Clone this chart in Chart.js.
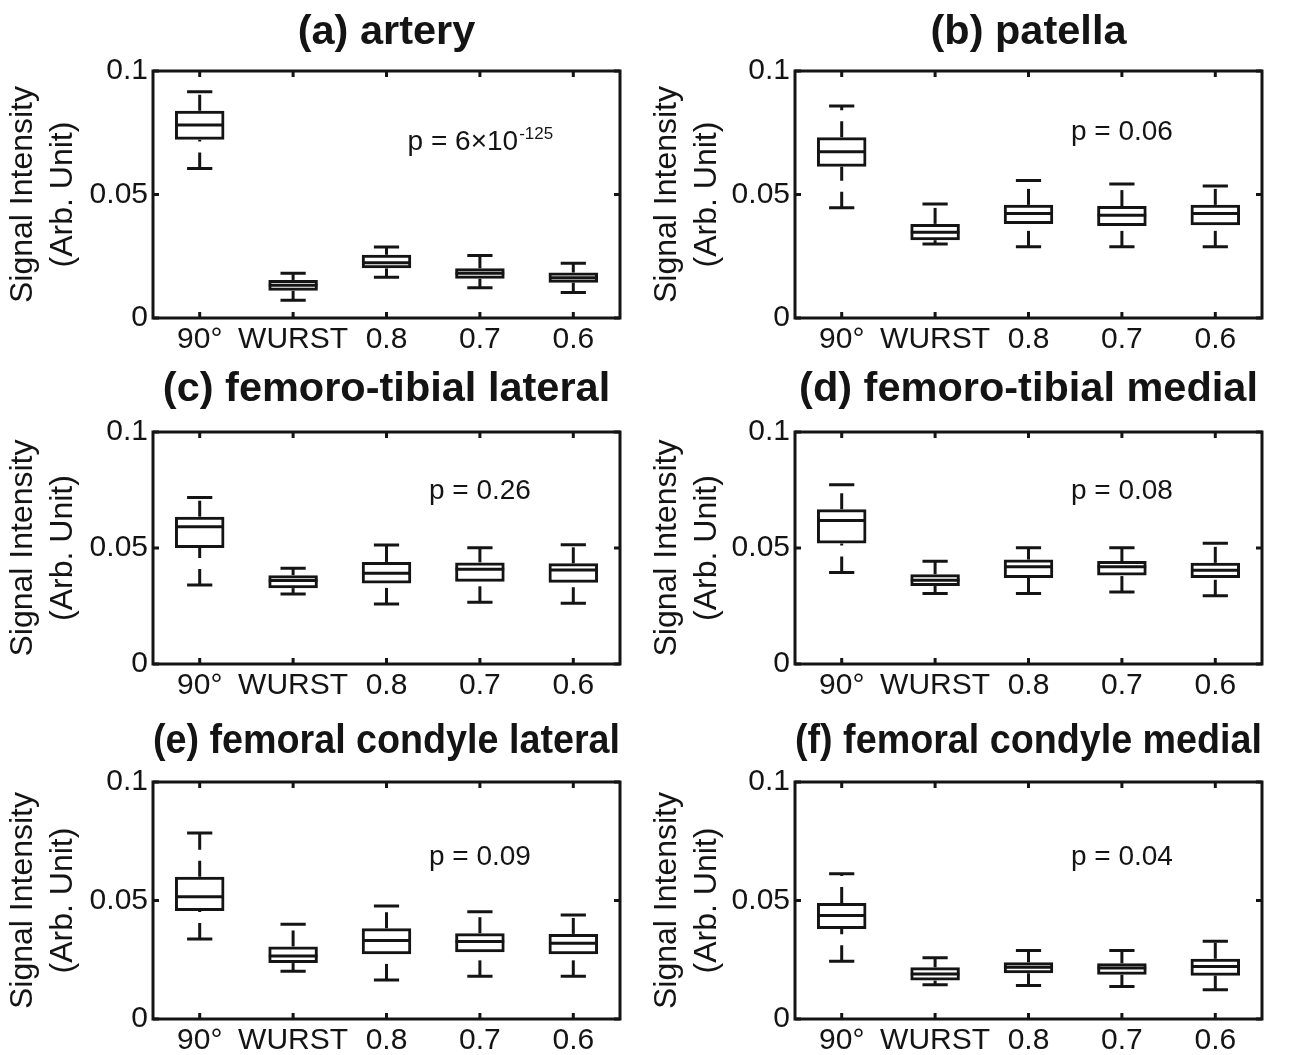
<!DOCTYPE html>
<html><head><meta charset="utf-8">
<script src="https://cdn.jsdelivr.net/npm/chart.js@4.4.1/dist/chart.umd.min.js"></script>
<style>
html,body{margin:0;padding:0;background:#fff;overflow:hidden;width:1306px;height:1055px;position:relative;}
canvas{position:absolute;}
</style></head><body>
<script>
// ---------------- data ----------------
const categories = ['90°', 'WURST', '0.8', '0.7', '0.6'];
const yTickLabels = ['0', '0.05', '0.1'];
const yAxisTitle = ['Signal Intensity', '(Arb. Unit)'];
const panelTitles = ['(a) artery', '(b) patella', '(c) femoro-tibial lateral',
  '(d) femoro-tibial medial', '(e) femoral condyle lateral', '(f) femoral condyle medial'];
const pValueTexts = ['p = 6×10', 'p = 0.06', 'p = 0.26', 'p = 0.08', 'p = 0.09', 'p = 0.04'];
const pValueExponents = ['-125', '', '', '', '', ''];

// each entry: [lower whisker, Q1, median, Q3, upper whisker]
const arteryStats = [
  [0.0605, 0.0722, 0.0781, 0.0839, 0.0916],
  [0.0072, 0.0110, 0.0133, 0.0154, 0.0181],
  [0.0165, 0.0201, 0.0224, 0.0256, 0.0287],
  [0.0122, 0.0159, 0.0181, 0.0201, 0.0253],
  [0.0103, 0.0143, 0.0163, 0.0184, 0.0222]
];
const patellaStats = [
  [0.0446, 0.0612, 0.0673, 0.0732, 0.0858],
  [0.0300, 0.0315, 0.0347, 0.0381, 0.0462],
  [0.0288, 0.0381, 0.0423, 0.0458, 0.0557],
  [0.0288, 0.0372, 0.0416, 0.0453, 0.0543],
  [0.0288, 0.0376, 0.0423, 0.0458, 0.0534]
];
const ftLateralStats = [
  [0.0341, 0.0500, 0.0592, 0.0635, 0.0718],
  [0.0302, 0.0327, 0.0360, 0.0383, 0.0413],
  [0.0259, 0.0347, 0.0391, 0.0440, 0.0513],
  [0.0266, 0.0355, 0.0408, 0.0438, 0.0501],
  [0.0262, 0.0350, 0.0405, 0.0434, 0.0514]
];
const ftMedialStats = [
  [0.0394, 0.0519, 0.0619, 0.0667, 0.0773],
  [0.0304, 0.0336, 0.0361, 0.0387, 0.0443],
  [0.0304, 0.0371, 0.0419, 0.0450, 0.0501],
  [0.0310, 0.0381, 0.0419, 0.0444, 0.0501],
  [0.0294, 0.0371, 0.0404, 0.0436, 0.0521]
];
const fcLateralStats = [
  [0.0338, 0.0456, 0.0516, 0.0600, 0.0785],
  [0.0201, 0.0236, 0.0266, 0.0306, 0.0400],
  [0.0165, 0.0273, 0.0331, 0.0383, 0.0477],
  [0.0180, 0.0282, 0.0327, 0.0362, 0.0453],
  [0.0180, 0.0273, 0.0320, 0.0359, 0.0439]
];
const fcMedialStats = [
  [0.0244, 0.0380, 0.0437, 0.0489, 0.0613],
  [0.0145, 0.0162, 0.0190, 0.0218, 0.0258],
  [0.0141, 0.0193, 0.0218, 0.0239, 0.0289],
  [0.0137, 0.0187, 0.0215, 0.0235, 0.0289],
  [0.0123, 0.0183, 0.0221, 0.0254, 0.0328]
];
const panelStats = [arteryStats, patellaStats, ftLateralStats, ftMedialStats, fcLateralStats, fcMedialStats];

// ---------------- layout / style ----------------
const FONT = '"Liberation Sans", Arial, Helvetica, sans-serif';
const INK = '#141414';
const pAnchorX = 3.0;                                   // category units
const pAnchorY = [0.072, 0.076, 0.0755, 0.0755, 0.0692, 0.0692];
const cols = [
  {left: 0,   width: 660, axisW: 153, padRight: 40, yTitlePad: 3},
  {left: 625, width: 681, axisW: 170, padRight: 44, yTitlePad: 22}
];
const rows = [
  {top: 0,   plotTop: 71,  plotBottom: 318, titleCenter: 33},
  {top: 345, plotTop: 432, plotBottom: 664, titleCenter: 390},
  {top: 695, plotTop: 782, plotBottom: 1019, titleCenter: 742}
];
const TITLE_SIZE = 41.5, TITLE_LH = 1.2;
const XAXIS_H = 36;

Chart.defaults.font.family = FONT;
Chart.defaults.color = INK;

const boxPlugin = {
  id: 'boxExtras',
  beforeDatasetsDraw(chart) {
    const {ctx, chartArea: a} = chart;
    const xs = chart.scales.x, ys = chart.scales.y;
    ctx.save();
    ctx.strokeStyle = INK;
    ctx.lineWidth = 3;
    ctx.lineCap = 'butt';
    ctx.strokeRect(a.left, a.top, a.right - a.left, a.bottom - a.top);
    const tl = 6;
    ctx.beginPath();
    categories.forEach((c, i) => {
      const x = xs.getPixelForValue(i);
      ctx.moveTo(x, a.bottom); ctx.lineTo(x, a.bottom - tl);
      ctx.moveTo(x, a.top); ctx.lineTo(x, a.top + tl);
    });
    ys.ticks.forEach(t => {
      const y = ys.getPixelForValue(t.value);
      ctx.moveTo(a.left, y); ctx.lineTo(a.left + tl, y);
      ctx.moveTo(a.right, y); ctx.lineTo(a.right - tl, y);
    });
    ctx.stroke();
    ctx.restore();
  },
  afterDatasetsDraw(chart) {
    const {ctx} = chart;
    const xs = chart.scales.x, ys = chart.scales.y;
    const stats = chart.options.plugins.boxExtras.stats;
    const cw = xs.getPixelForValue(1) - xs.getPixelForValue(0);
    const capHalf = cw * 0.135;
    const boxHalf = cw * 0.26;
    ctx.save();
    ctx.strokeStyle = INK;
    ctx.lineWidth = 3;
    ctx.lineCap = 'butt';
    stats.forEach((s, i) => {
      const x = xs.getPixelForValue(i);
      const [lo, q1, med, q3, hi] = s.map(v => ys.getPixelForValue(v));
      ctx.setLineDash([]);
      ctx.beginPath();
      ctx.moveTo(x - boxHalf, med); ctx.lineTo(x + boxHalf, med);
      ctx.moveTo(x - capHalf, lo); ctx.lineTo(x + capHalf, lo);
      ctx.moveTo(x - capHalf, hi); ctx.lineTo(x + capHalf, hi);
      ctx.stroke();
      ctx.setLineDash([16, 11]);
      ctx.beginPath();
      ctx.moveTo(x, lo); ctx.lineTo(x, q1);
      ctx.stroke();
      ctx.beginPath();
      ctx.moveTo(x, q3); ctx.lineTo(x, hi);
      ctx.stroke();
    });
    const idx = chart.options.plugins.boxExtras.panel;
    const main = pValueTexts[idx], sup = pValueExponents[idx];
    ctx.setLineDash([]);
    ctx.fillStyle = INK;
    ctx.textBaseline = 'alphabetic';
    ctx.font = '28px ' + FONT;
    const wMain = ctx.measureText(main).width;
    ctx.font = '17px ' + FONT;
    const wSup = sup ? ctx.measureText(sup).width : 0;
    const cx = xs.getPixelForValue(pAnchorX);
    const base = ys.getPixelForValue(pAnchorY[idx]) + 10;
    const x0 = cx - (wMain + wSup) / 2;
    ctx.font = '28px ' + FONT;
    ctx.textAlign = 'left';
    ctx.fillText(main, x0, base);
    if (sup) {
      ctx.font = '17px ' + FONT;
      ctx.fillText(sup, x0 + wMain + 1, base - 11);
    }
    ctx.restore();
  }
};

panelStats.forEach((stats, p) => {
  const col = cols[p % 2], row = rows[Math.floor(p / 2)];
  const LH = TITLE_SIZE * TITLE_LH;
  const padTop = row.titleCenter - row.top - LH / 2;
  const padBottom = row.plotTop - row.top - padTop - LH;
  const h = Math.round(row.plotBottom + XAXIS_H - row.top);
  const cv = document.createElement('canvas');
  cv.width = col.width; cv.height = h;
  cv.style.left = col.left + 'px'; cv.style.top = row.top + 'px';
  cv.style.width = col.width + 'px'; cv.style.height = h + 'px';
  document.body.appendChild(cv);
  new Chart(cv, {
    type: 'bar',
    data: {
      labels: categories,
      datasets: [{
        data: stats.map(s => [s[1], s[3]]),
        backgroundColor: 'rgba(255,255,255,0)',
        borderColor: INK,
        borderWidth: 3,
        borderSkipped: false,
        barPercentage: 0.53,
        categoryPercentage: 1.0
      }]
    },
    options: {
      responsive: false,
      animation: false,
      devicePixelRatio: 1,
      layout: {padding: {left: 0, right: col.padRight, top: 0, bottom: 0}},
      plugins: {
        legend: {display: false},
        tooltip: {enabled: false},
        title: {
          display: true, text: panelTitles[p], fullSize: false, color: INK,
          font: {size: TITLE_SIZE, weight: 'bold', lineHeight: TITLE_LH},
          padding: {top: padTop, bottom: padBottom}
        },
        boxExtras: {stats: stats, panel: p}
      },
      scales: {
        x: {
          type: 'category', offset: true,
          grid: {display: false}, border: {display: false},
          ticks: {font: {size: 30}, padding: -4, color: INK, maxRotation: 0, autoSkip: false},
          afterFit(s) { s.height = XAXIS_H; }
        },
        y: {
          min: 0, max: 0.1,
          grid: {display: false}, border: {display: false},
          ticks: {stepSize: 0.05, font: {size: 30}, padding: -3, color: INK,
            callback: (v, i) => yTickLabels[i]},
          title: {display: true, text: yAxisTitle, color: INK,
            font: {size: 32, lineHeight: 1.25}, padding: {top: col.yTitlePad, bottom: 0}},
          afterFit(s) { s.width = col.axisW; }
        }
      }
    },
    plugins: [boxPlugin]
  });
});
</script>
</body></html>
